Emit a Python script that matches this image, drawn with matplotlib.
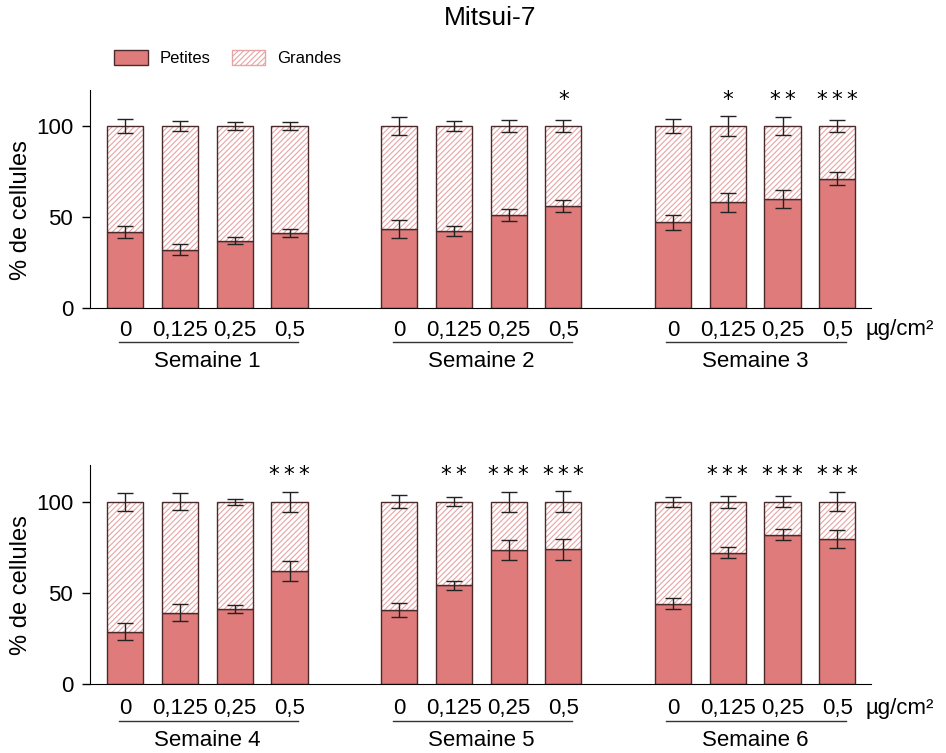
import numpy as np
import matplotlib
matplotlib.use("Agg")
import matplotlib.pyplot as plt
from matplotlib.patches import Patch

doses = ["0", "0,125", "0,25", "0,5"]
weeks_top = ["Semaine 1", "Semaine 2", "Semaine 3"]
weeks_bot = ["Semaine 4", "Semaine 5", "Semaine 6"]

# % petites cellules (mean), error on petites, error on total (grandes)
petites_top = [42, 32, 37, 41, 43.5, 42.5, 51, 56, 47, 58, 60, 71]
err_p_top = [3.3, 3, 2, 2.2, 4.8, 2.8, 3.2, 3.3, 3.9, 5.3, 4.8, 3.5]
err_g_top = [3.6, 3, 2, 2.3, 4.9, 2.5, 3.3, 3.2, 3.7, 5.5, 4.7, 3.5]
stars_top = ["", "", "", "", "", "", "", "*", "", "*", "**", "***"]

petites_bot = [28.5, 39, 41, 62, 40.5, 54, 73.5, 74, 44, 72, 82, 79.5]
err_p_bot = [4.7, 4.7, 2, 5.5, 3.7, 2.6, 5.6, 5.8, 2.9, 3.1, 2.9, 5.1]
err_g_bot = [4.9, 4.7, 1.7, 5.5, 3.7, 2.6, 5.6, 5.8, 2.8, 3.4, 3, 5.1]
stars_bot = ["", "", "", "***", "", "**", "***", "***", "", "***", "***", "***"]

red = "#e07b7b"
hatch_col = "#e8a4a4"
edge = "#4a2a2a"

x = np.array([0, 1, 2, 3, 5, 6, 7, 8, 10, 11, 12, 13])
w = 0.66

plt.rcParams["font.family"] = "Liberation Sans"
plt.rcParams["hatch.linewidth"] = 0.8

fig = plt.figure(figsize=(9.46, 7.53), dpi=100)
ax1 = fig.add_axes([0.095, 0.591, 0.826, 0.290])
ax2 = fig.add_axes([0.095, 0.092, 0.826, 0.290])


def draw(ax, petites, ep, eg, stars, weeks, dy=0.0):
    petites = np.array(petites)
    grandes = 100 - petites
    ax.bar(x, petites, w, color=red, edgecolor=edge, linewidth=1, zorder=2)
    ax.bar(x, grandes, w, bottom=petites, color="white", edgecolor=hatch_col,
           hatch="//////", linewidth=0, zorder=2)
    ax.bar(x, grandes, w, bottom=petites, fill=False, edgecolor=edge, linewidth=1, zorder=3)
    ax.errorbar(x, petites, yerr=ep, fmt="none", ecolor="#222222", elinewidth=1,
                capsize=6, capthick=1, zorder=4)
    ax.errorbar(x, np.full(len(x), 100), yerr=eg, fmt="none", ecolor="#222222",
                elinewidth=1, capsize=6, capthick=1, zorder=4)
    for xi, s in zip(x, stars):
        if s:
            ax.text(xi, 114.5, "\u2009".join(s), ha="center", va="center", fontsize=15.5,
                    family="DejaVu Sans")
    ax.set_xlim(-0.645, 13.62)
    ax.set_ylim(0, 120)
    ax.set_yticks([0, 50, 100])
    ax.tick_params(axis="y", labelsize=16, length=6, width=1, pad=6)
    ax.set_xticks(x)
    ax.set_xticklabels(doses * 3, fontsize=16)
    ax.tick_params(axis="x", length=0, pad=9 + dy * 100)
    ax.spines["top"].set_visible(False)
    ax.spines["right"].set_visible(False)
    ax.spines["left"].set_bounds(0, 120)
    ax.set_ylabel("% de cellules", fontsize=17)
    ax.yaxis.set_label_coords(-0.074, 0.45)
    trans = ax.get_xaxis_transform()
    for g, name in enumerate(weeks):
        start = x[g * 4]
        ax.plot([start - 0.12, start + 3.15], [-0.155 - dy, -0.155 - dy], color="#333333",
                lw=1, transform=trans, clip_on=False)
        ax.text(start + 1.5, -0.245 - dy, name, ha="center", va="center", fontsize=16,
                transform=trans)
    ax.text(13.52, -0.1 - dy, "µg/cm²", ha="left", va="center", fontsize=16,
            transform=trans)


draw(ax1, petites_top, err_p_top, err_g_top, stars_top, weeks_top)
draw(ax2, petites_bot, err_p_bot, err_g_bot, stars_bot, weeks_bot, dy=0.015)

fig.text(0.518, 0.976, "Mitsui-7", ha="center", va="center", fontsize=19)

handles = [Patch(facecolor=red, edgecolor=edge, label="Petites"),
           Patch(facecolor="white", edgecolor=hatch_col, hatch="//////", label="Grandes")]
fig.legend(handles=handles, loc="center left", bbox_to_anchor=(0.105, 0.923), ncol=2,
           frameon=False, fontsize=12, handlelength=2.0, handleheight=1.0,
           columnspacing=1.3, handletextpad=0.7)

fig.savefig("out.png", dpi=100)
